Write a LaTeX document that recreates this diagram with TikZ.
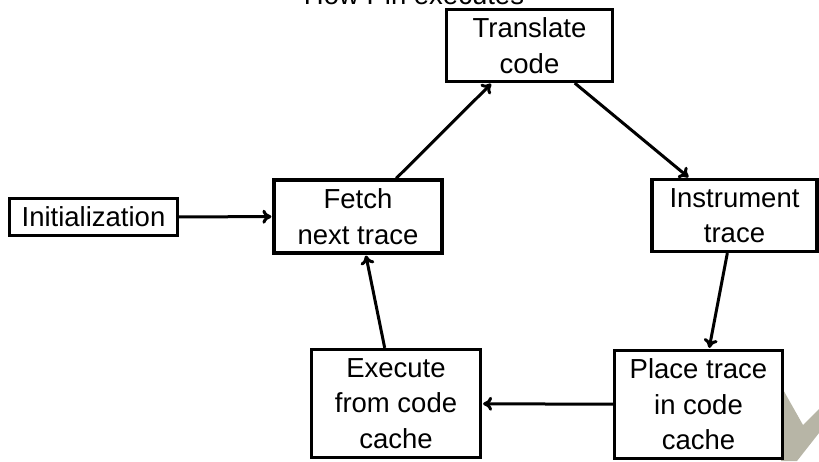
\documentclass[tikz,border=0pt]{standalone}
\usepackage{fontspec}
\setmainfont{Liberation Sans}
\usetikzlibrary{arrows.meta}
\definecolor{logogray}{RGB}{183,181,166}
\tikzset{
  box/.style={draw=black, line width=3.2pt, fill=white, align=center, inner sep=0pt,
    font=\fontsize{27.5}{35.5}\selectfont},
  flow/.style={draw=black, line width=3pt, -{To[length=9pt,width=14pt]}, shorten >=1pt},
}
\begin{document}
\begin{tikzpicture}[x=1pt,y=-1pt]
\useasboundingbox (0,0) rectangle (819,461);
% background logo fragment
\fill[logogray] (781,386) -- (803,425) -- (819,409) -- (819,433) -- (797,461) -- (781,461) -- cycle;
% title (cut by the top edge, as in the reference)
\node[font=\fontsize{27.5}{32}\selectfont, anchor=base] (title) at (414,4) {How Pin executes};
% boxes
\node[box, minimum width=166pt, minimum height=72pt] (trans) at (529.5,45.5) {Translate\\code};
\node[box, minimum width=165pt, minimum height=72pt] (instr) at (734.5,215.5) {Instrument\\trace};
\node[box, minimum width=168pt, minimum height=73pt] (fetch) at (358,216.5) {Fetch\\next trace};
\node[box, minimum width=168pt, minimum height=37pt] (init) at (93.5,217) {Initialization};
\node[box, minimum width=169pt, minimum height=108pt] (exec) at (396,403.5) {Execute\\from code\\cache};
\node[box, minimum width=168pt, minimum height=108pt] (place) at (698.5,404.5) {Place trace\\in code\\cache};
% connectors
\draw[flow] (init) -- (fetch);
\draw[flow] (fetch) -- (trans);
\draw[flow] (trans) -- (instr);
\draw[flow] (instr) -- (place);
\draw[flow] (place) -- (exec);
\draw[flow] (exec) -- (fetch);
\end{tikzpicture}
\end{document}
